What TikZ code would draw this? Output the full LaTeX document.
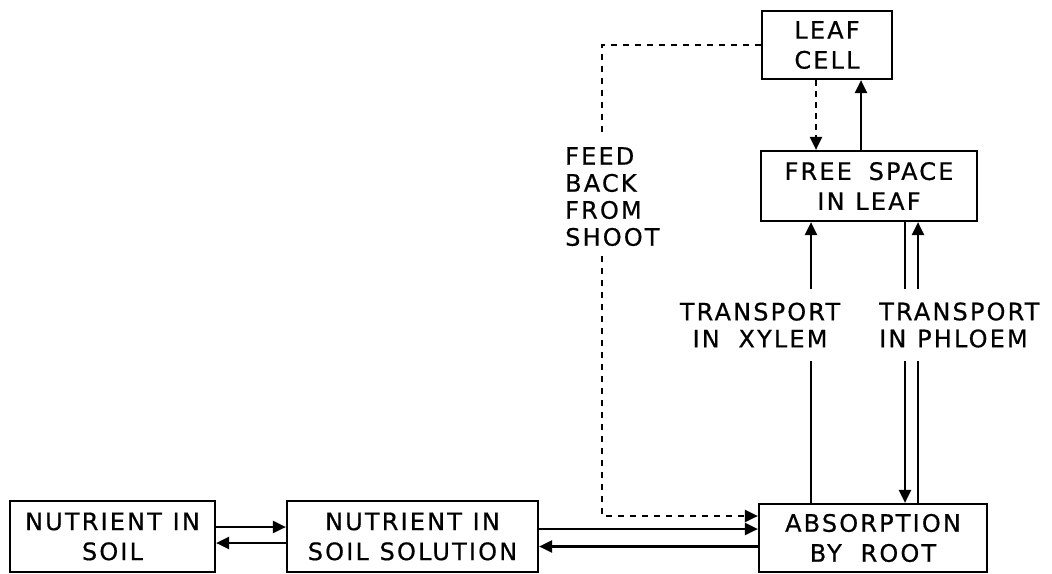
\documentclass[tikz,border=0pt]{standalone}
\usepackage{fontspec}
\setmainfont{DejaVu Sans}[LetterSpace=9,FakeBold=0.6,WordSpace=1.1]
\usetikzlibrary{arrows.meta}
\begin{document}
\begin{tikzpicture}[x=1pt,y=-1pt,
  every node/.style={font=\fontsize{24}{30}\selectfont},
  box/.style={draw,line width=2.2pt,align=center,inner sep=0pt},
  lbl/.style={align=left,inner xsep=0pt,inner ysep=10pt,font=\fontsize{24}{27}\selectfont},
  conn/.style={line width=2.2pt},
  tip/.style={-{Triangle[length=13pt,width=12pt]}},
  arr/.style={conn,tip},
  fbdash/.style={line width=2.2pt,dash pattern=on 6pt off 6pt}
]
\useasboundingbox[fill=white] (0,0) rectangle (1052,573);

% boxes
\node[box,minimum width=205pt,minimum height=71pt] (soil) at (112.5,536.5) {NUTRIENT IN\\SOIL};
\node[box,minimum width=251pt,minimum height=71pt] (solution) at (412.5,536.5) {NUTRIENT IN\\SOIL SOLUTION};
\node[box,minimum width=228pt,minimum height=68pt] (root) at (873,538) {ABSORPTION\\BY\ \hspace{8pt}ROOT};
\node[box,minimum width=130pt,minimum height=68pt] (leaf) at (827,45) {LEAF\\CELL};
\node[box,minimum width=216pt,minimum height=70pt] (free) at (869,186) {FREE\ \hspace{6pt}SPACE\\IN LEAF};

% labels
\node[lbl,anchor=north west] (fb) at (565,137) {FEED\\BACK\\FROM\\SHOOT};
\node[lbl,align=center,inner ysep=13pt] (xl) at (760,325) {TRANSPORT\\IN\ \hspace{8pt}XYLEM};
\node[lbl,anchor=west,inner ysep=13pt] (pl) at (879,325) {TRANSPORT\\IN PHLOEM};

% columns
\coordinate (fbx) at (602,0);
\coordinate (xa) at (816,0);
\coordinate (xb) at (861,0);
\coordinate (xx) at (811,0);
\coordinate (xp1) at (905,0);
\coordinate (xp2) at (918,0);

% soil <-> solution
\draw[arr] ([yshift=9.5pt]soil.east) coordinate (a1) -- (a1 -| solution.west);
\draw[arr] ([yshift=-6.5pt]solution.west) coordinate (a2) -- (a2 -| soil.east);

% solution <-> root
\draw[arr] ([yshift=7.5pt]solution.east) coordinate (b1) -- (b1 -| root.west);
\draw[arr] ([yshift=-8.5pt]root.west) coordinate (b2) -- (b2 -| solution.east);

% feedback from shoot
\draw[fbdash] (leaf.west) -| (fbx |- fb.north);
\draw[fbdash,tip] (fbx |- fb.south) |- ([yshift=22pt]root.west);

% leaf cell <-> free space
\draw[fbdash,dash pattern=on 6pt off 5pt,tip] (leaf.south -| xa) -- (free.north -| xa);
\draw[arr] (free.north -| xb) -- (leaf.south -| xb);

% xylem
\draw[conn] (root.north -| xx) -- (xx |- xl.south);
\draw[arr] (xx |- xl.north) -- (free.south -| xx);

% phloem
\draw[conn] (free.south -| xp1) -- (xp1 |- pl.north);
\draw[arr] (xp1 |- pl.south) -- (root.north -| xp1);
\draw[conn] (root.north -| xp2) -- (xp2 |- pl.south);
\draw[arr] (xp2 |- pl.north) -- (free.south -| xp2);
\end{tikzpicture}
\end{document}
